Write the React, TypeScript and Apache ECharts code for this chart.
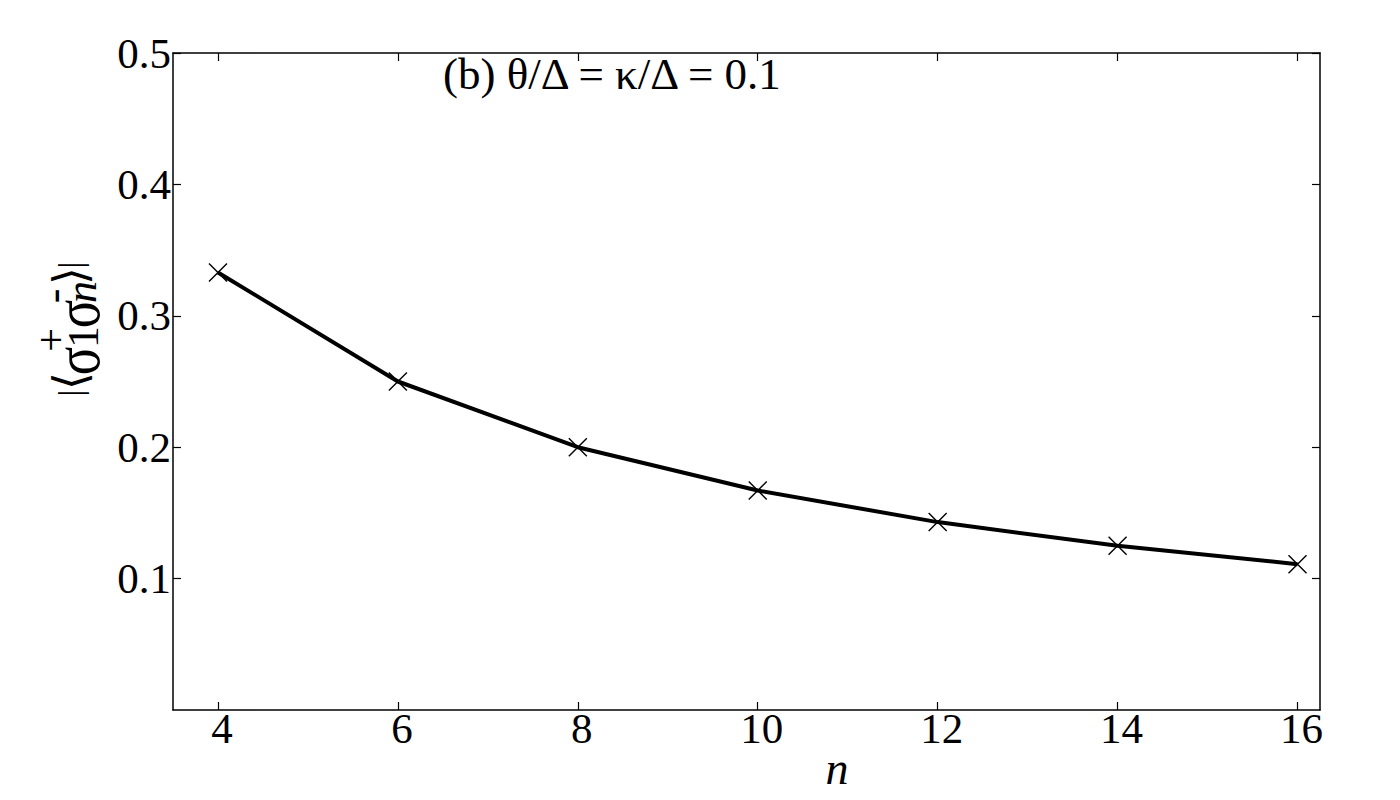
import React, { useEffect, useRef } from "react";
import * as echarts from "echarts";

const nValues = [4, 6, 8, 10, 12, 14, 16];
const correlation = [0.333, 0.25, 0.2, 0.167, 0.143, 0.125, 0.111];
const xTicks = [4, 6, 8, 10, 12, 14, 16];
const yTicks = [0.1, 0.2, 0.3, 0.4, 0.5];
const annotation = "(b) θ/Δ = κ/Δ = 0.1";
const xName = "n";

const SERIF = "'Liberation Serif', 'DejaVu Serif', serif";

export default function App() {
  const ref = useRef<HTMLDivElement>(null);
  useEffect(() => {
    if (!ref.current) return;
    const chart = echarts.init(ref.current, undefined, { renderer: "svg" });
    const tickStyle = { show: true, inside: true, length: 8, lineStyle: { color: "#000", width: 1.2 } };
    const lineStyle = { color: "#000", width: 1.5 };
    const lbl = (u: number, v: number, text: string, size: number, extra: any = {}) => ({
      type: "text",
      x: u,
      y: v,
      scaleX: extra.scaleX || 1,
      style: {
        text,
        fontFamily: extra.family || SERIF,
        fontStyle: extra.italic ? "italic" : "normal",
        fontSize: size,
        fill: "#000",
        align: "center",
        verticalAlign: "middle",
      },
    });
    const BRACKET = "'DejaVu Sans', sans-serif";
    chart.setOption({
      animation: false,
      backgroundColor: "#fff",
      grid: { left: 173, top: 53, right: 80, bottom: 90, containLabel: false, outerBoundsMode: "none" },
      xAxis: [
        {
          type: "value",
          min: 3.5,
          max: 16.25,
          position: "bottom",
          axisLine: { show: true, onZero: false, lineStyle },
          axisTick: { ...tickStyle, customValues: xTicks },
          axisLabel: {
            customValues: xTicks,
            fontFamily: SERIF,
            fontSize: 43,
            color: "#000",
            margin: -3,
            padding: [0, 0, 0, 8],
          },
          splitLine: { show: false },
        },
        {
          type: "value",
          min: 3.5,
          max: 16.25,
          position: "top",
          axisLine: { show: true, onZero: false, lineStyle },
          axisTick: { ...tickStyle, customValues: xTicks },
          axisLabel: { show: false },
          splitLine: { show: false },
        },
      ],
      yAxis: [
        {
          type: "value",
          min: 0,
          max: 0.5,
          position: "left",
          axisLine: { show: true, onZero: false, lineStyle },
          axisTick: { ...tickStyle, customValues: yTicks },
          axisLabel: {
            customValues: yTicks,
            formatter: (v: number) => v.toFixed(1),
            fontFamily: SERIF,
            fontSize: 43,
            color: "#000",
            margin: 2,
          },
          splitLine: { show: false },
        },
        {
          type: "value",
          min: 0,
          max: 0.5,
          position: "right",
          axisLine: { show: true, onZero: false, lineStyle },
          axisTick: { ...tickStyle, customValues: yTicks },
          axisLabel: { show: false },
          splitLine: { show: false },
        },
      ],
      series: [
        {
          type: "line",
          data: nValues.map((n, i) => [n, correlation[i]]),
          xAxisIndex: 0,
          yAxisIndex: 0,
          lineStyle: { color: "#000", width: 4 },
          symbol: "path://M0,0L10,10M10,0L0,10",
          symbolSize: 18,
          showSymbol: true,
          itemStyle: { color: "transparent", borderColor: "#000", borderWidth: 1.4 },
          z: 3,
        },
      ],
      graphic: [
        {
          type: "text",
          left: 443,
          top: 51,
          style: { text: annotation, fontFamily: SERIF, fontSize: 45, fill: "#000" },
        },
        {
          type: "text",
          x: 837,
          y: 768,
          style: {
            text: xName,
            fontFamily: SERIF,
            fontStyle: "italic",
            fontSize: 46,
            fill: "#000",
            align: "center",
            verticalAlign: "middle",
          },
        },
        {
          type: "group",
          x: 97,
          y: 395,
          rotation: Math.PI / 2,
          children: [
            lbl(2, -27, "|", 34),
            lbl(14, -27, "⟨", 46, { family: BRACKET }),
            lbl(34, -20, "σ", 66, { scaleX: 0.8 }),
            lbl(55, -46, "+", 42),
            lbl(58, -14, "1", 44),
            lbl(81, -20, "σ", 66, { scaleX: 0.8 }),
            lbl(103, -16, "n", 44, { italic: true }),
            lbl(99, -44, "-", 44),
            lbl(119, -27, "⟩", 46, { family: BRACKET }),
            lbl(130, -27, "|", 34),
          ],
        },
      ],
    });
    return () => chart.dispose();
  }, []);
  return (
    <div
      ref={ref}
      style={{ position: "fixed", left: 0, top: 0, width: 1400, height: 800, background: "#fff" }}
    />
  );
}
